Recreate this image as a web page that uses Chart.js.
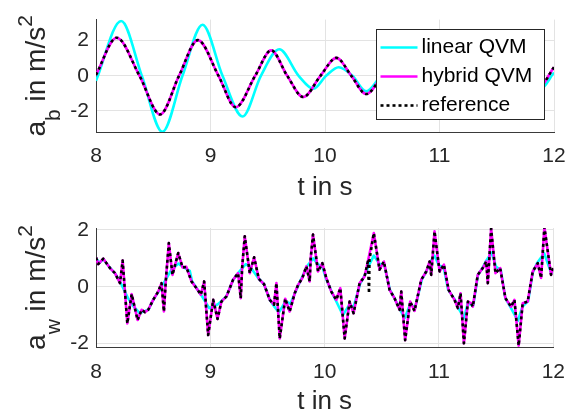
<!DOCTYPE html>
<html>
<head>
<meta charset="utf-8">
<script src="https://cdn.jsdelivr.net/npm/chart.js@4.4.1/dist/chart.umd.min.js"></script>
<style>
html, body { margin: 0; padding: 0; background: #fff; }
.plot_box { width: 578px; height: 208px; position: relative; }
</style>
</head>
<body>
<div class="plot_box"><canvas id="chart_b" width="578" height="208"></canvas></div>
<div class="plot_box"><canvas id="chart_w" width="578" height="208"></canvas></div>
<script>
//系列名
var series_names = ['linear QVM', 'hybrid QVM', 'reference'];
//目盛り
var x_ticks = [8, 9, 10, 11, 12];
var y_ticks_b = [-2, 0, 2];
var y_ticks_w = [-2, 0, 2];

//上のグラフ a_b (hybrid と reference は同じ)
var t_b_hybrid = [8.00, 8.18, 8.38, 8.56, 8.725, 8.89, 9.07, 9.22, 9.39, 9.53, 9.67, 9.81, 9.96, 10.10, 10.23, 10.36, 10.50, 10.63, 10.75, 10.88, 11.00, 11.12, 11.24, 11.37, 11.49, 11.62, 11.74, 11.87, 12.00];
var a_b_hybrid = [0.05, 2.17, 0, -2.20, 0, 2.03, 0, -1.79, 0, 1.45, 0, -1.21, 0, 1.02, 0, -1.04, 0, 0.90, 0, -0.85, 0, 0.80, 0, -0.75, 0, 0.70, 0, -0.60, 0.49];
var t_b_linear = [8.00, 8.22, 8.40, 8.58, 8.755, 8.93, 9.105, 9.28, 9.44, 9.60, 9.77, 9.90, 10.01, 10.12, 10.24, 10.36, 10.49, 10.62, 10.76, 10.89, 11.02, 11.15, 11.28, 11.41, 11.54, 11.67, 11.79, 11.88, 12.00];
var a_b_linear = [-0.28, 3.12, 0, -3.19, 0, 2.91, 0, -2.32, 0, 1.51, 0, -0.74, 0, 0.49, 0, -0.88, 0, 0.70, 0, -0.70, 0, 0.65, 0, -0.65, 0, 0.60, 0, -0.75, 0.19];

//下のグラフ a_w
var t_w_hybrid = [8.000, 8.020, 8.064, 8.122, 8.166, 8.210, 8.233, 8.274, 8.312, 8.364, 8.399, 8.428, 8.457, 8.500, 8.544, 8.573, 8.594, 8.611, 8.637, 8.669, 8.719, 8.757, 8.790, 8.835, 8.879, 8.917, 8.946, 8.981, 9.025, 9.063, 9.097, 9.141, 9.199, 9.243, 9.266, 9.278, 9.301, 9.345, 9.383, 9.424, 9.470, 9.520, 9.557, 9.578, 9.607, 9.655, 9.694, 9.738, 9.767, 9.805, 9.840, 9.869, 9.878, 9.898, 9.942, 9.980, 10.014, 10.058, 10.102, 10.137, 10.175, 10.218, 10.253, 10.306, 10.349, 10.378, 10.430, 10.480, 10.518, 10.568, 10.611, 10.655, 10.670, 10.704, 10.748, 10.786, 10.845, 10.889, 10.918, 10.932, 10.961, 11.005, 11.043, 11.084, 11.136, 11.165, 11.189, 11.218, 11.253, 11.282, 11.296, 11.339, 11.383, 11.413, 11.427, 11.456, 11.494, 11.535, 11.581, 11.631, 11.660, 11.697, 11.732, 11.776, 11.820, 11.864, 11.893, 11.922, 11.980, 12.000];
var a_w_hybrid = [1.03, 0.80, 0.99, 0.66, 0.48, 0.13, 0.92, -1.29, -0.26, -1.17, -0.81, -0.89, -0.81, -0.46, -0.17, 0.13, -0.87, 0.24, 1.54, 0.42, 1.19, 0.68, 0.70, 0.19, -0.05, -0.28, 0.19, -1.70, -0.46, -1.13, -0.52, -0.34, 0.25, 0.48, -0.40, 0.66, 1.78, 0.48, 1.04, 0.28, 0.09, -0.46, -0.63, 0.13, -1.82, -0.42, -0.87, -0.23, 0.06, 0.31, 0.72, 0.19, 1.01, 1.84, 0.54, 0.83, 0.31, -0.17, -0.46, -0.05, -1.82, -0.52, -0.93, 0.13, 0.36, 0.89, 1.89, 0.60, 0.89, -0.11, -0.40, -0.81, -0.17, -1.88, -0.52, -0.85, 0.25, 0.54, 0.89, 0.42, 1.95, 0.54, 0.78, -0.11, -0.46, -0.75, -0.23, -1.99, -0.52, -0.58, -0.70, 0.42, 0.66, 0.89, 0.13, 2.05, 0.48, 0.66, -0.40, -0.70, -0.46, -2.07, -0.58, -0.52, 0.54, 0.83, 0.31, 2.10, 0.42, 0.66];
//reference だけにある小さな落ち込み
var t_w_ref_extra = [10.388, 10.392];
var a_w_ref_extra = [-0.23, 0.95];
var t_w_linear = [8.00, 8.03, 8.065, 8.12, 8.17, 8.22, 8.28, 8.33, 8.38, 8.43, 8.46, 8.50, 8.55, 8.61, 8.66, 8.72, 8.76, 8.82, 8.84, 8.88, 8.93, 8.99, 9.03, 9.07, 9.14, 9.20, 9.25, 9.31, 9.35, 9.42, 9.47, 9.52, 9.56, 9.60, 9.66, 9.70, 9.74, 9.77, 9.81, 9.85, 9.90, 9.94, 9.98, 10.01, 10.06, 10.10, 10.16, 10.22, 10.25, 10.31, 10.35, 10.38, 10.43, 10.48, 10.52, 10.57, 10.61, 10.66, 10.70, 10.75, 10.79, 10.85, 10.89, 10.92, 10.96, 11.00, 11.04, 11.08, 11.14, 11.17, 11.22, 11.25, 11.30, 11.34, 11.38, 11.41, 11.46, 11.50, 11.54, 11.58, 11.63, 11.69, 11.73, 11.78, 11.82, 11.86, 11.92, 11.98, 12.00];
var a_w_linear = [1.00, 0.85, 0.97, 0.68, 0.45, 0.10, -0.40, -0.70, -0.92, -0.85, -0.80, -0.46, -0.15, 0.25, 0.60, 0.82, 0.70, 0.56, 0.20, -0.05, -0.35, -0.75, -0.70, -0.60, -0.34, 0.25, 0.52, 0.80, 0.70, 0.30, 0.09, -0.46, -0.70, -0.90, -0.50, -0.60, -0.23, 0.06, 0.40, 0.75, 1.00, 0.80, 0.70, 0.31, -0.17, -0.50, -1.00, -0.60, -0.75, 0.10, 0.40, 0.70, 1.10, 0.80, 0.80, -0.10, -0.40, -0.80, -1.10, -0.60, -0.75, 0.25, 0.55, 0.85, 1.10, 0.75, 0.70, -0.10, -0.46, -0.75, -1.10, -0.60, -0.65, 0.40, 0.66, 0.90, 1.20, 0.70, 0.60, -0.40, -0.75, -1.20, -0.70, -0.50, 0.50, 0.85, 1.18, 0.50, 0.50];

var font_family = "'Liberation Sans', Arial, Helvetica, sans-serif";
var text_color = '#262626';
var line_colors = ['#00ffff', '#ff00ff', '#000000'];
var line_width = 2.6;
var ref_dash = [3, 3];

//t と値の配列から {x, y} の配列を作る
function to_xy(ts, vs){
    return ts.map(function(t, i){ return {x: t, y: vs[i]}; });
}
//追加点を混ぜて t の順に並べる
function merge_xy(ts, vs, extra_t, extra_v){
    var pts = to_xy(ts, vs).concat(to_xy(extra_t, extra_v));
    pts.sort(function(a, b){ return a.x - b.x; });
    return pts;
}

//データセット
function make_datasets(linear_pts, hybrid_pts, ref_pts, smooth){
    var common = {pointRadius: 0, borderWidth: line_width, fill: false, borderJoinStyle: 'round'};
    if(smooth){ common.cubicInterpolationMode = 'monotone'; } else { common.tension = 0; }
    return [
        Object.assign({label: series_names[0], data: linear_pts, borderColor: line_colors[0], order: 2}, common),
        Object.assign({label: series_names[1], data: hybrid_pts, borderColor: line_colors[1], order: 1}, common),
        Object.assign({label: series_names[2], data: ref_pts, borderColor: line_colors[2], borderDash: ref_dash, order: 0}, common)
    ];
}

//y 軸タイトル (下付き・上付き) を描くプラグイン
var y_title_plugin = {
    id: 'ytitle',
    afterDraw: function(chart, args, opts){
        var ctx = chart.ctx;
        var area = chart.chartArea;
        var big = opts.size, small = Math.round(opts.size * 0.75);
        var f_big = big + 'px ' + font_family;
        var f_small = small + 'px ' + font_family;
        ctx.save();
        ctx.font = f_big;
        var w1 = ctx.measureText(opts.base).width;
        var w3 = ctx.measureText(opts.rest).width;
        ctx.font = f_small;
        var w2 = ctx.measureText(opts.sub).width;
        var w4 = ctx.measureText(opts.sup).width;
        var total = w1 + w2 + w3 + w4;
        ctx.translate(opts.x, (area.top + area.bottom) / 2);
        ctx.rotate(-Math.PI / 2);
        ctx.fillStyle = text_color;
        ctx.textBaseline = 'alphabetic';
        ctx.textAlign = 'left';
        var x = -total / 2;
        ctx.font = f_big; ctx.fillText(opts.base, x, 0); x += w1;
        ctx.font = f_small; ctx.fillText(opts.sub, x, 15); x += w2;
        ctx.font = f_big; ctx.fillText(opts.rest, x, 0); x += w3;
        ctx.font = f_small; ctx.fillText(opts.sup, x, -13);
        ctx.restore();
    }
};

//凡例 (グラフの中、右上)
var legend_plugin = {
    id: 'legendbox',
    afterDatasetsDraw: function(chart, args, opts){
        if(!opts.show){ return; }
        var ctx = chart.ctx;
        var area = chart.chartArea;
        var w = 168, h = 90;
        var left = Math.round(area.right - 10 - w) + 0.5;
        var top = Math.round(area.top + 9) + 0.5;
        ctx.save();
        ctx.fillStyle = '#ffffff';
        ctx.fillRect(left, top, w, h);
        ctx.strokeStyle = text_color;
        ctx.lineWidth = 1;
        ctx.strokeRect(left, top, w, h);
        ctx.font = '21px ' + font_family;
        ctx.textBaseline = 'middle';
        chart.data.datasets.forEach(function(ds, i){
            var yy = top + 18 + i * 29;
            ctx.beginPath();
            ctx.strokeStyle = ds.borderColor;
            ctx.lineWidth = line_width;
            ctx.setLineDash(ds.borderDash || []);
            ctx.moveTo(left + 4, yy);
            ctx.lineTo(left + 41, yy);
            ctx.stroke();
            ctx.setLineDash([]);
            ctx.fillStyle = '#000000';
            ctx.fillText(ds.label, left + 45, yy);
        });
        ctx.restore();
    }
};

function make_options(ymin, ymax, y_ticks, pad_top, x_height, tick_pad, title_pad, y_title, show_legend){
    var tick_font = {family: font_family, size: 21};
    return {
        responsive: false,
        animation: false,
        devicePixelRatio: 1,
        layout: {padding: {left: 0, right: 24, top: pad_top, bottom: 0}},
        plugins: {
            legend: {display: false},
            tooltip: {enabled: false},
            ytitle: y_title,
            legendbox: {show: show_legend}
        },
        scales: {
            x: {
                type: 'linear', min: 8, max: 12,
                afterBuildTicks: function(s){ s.ticks = x_ticks.map(function(v){ return {value: v}; }); },
                afterFit: function(s){ s.height = x_height; },
                ticks: {font: tick_font, color: text_color, padding: tick_pad, maxRotation: 0},
                grid: {color: '#e3e3e3', drawTicks: false},
                border: {color: '#3a3a3a', width: 1},
                title: {display: true, text: 't in s', color: text_color, font: {family: font_family, size: 26, lineHeight: 1}, padding: {top: 0, bottom: title_pad}}
            },
            y: {
                type: 'linear', min: ymin, max: ymax,
                afterBuildTicks: function(s){ s.ticks = y_ticks.map(function(v){ return {value: v}; }); },
                afterFit: function(s){ s.width = 96; },
                ticks: {font: tick_font, color: text_color, padding: 7},
                grid: {color: '#e3e3e3', drawTicks: false},
                border: {color: '#3a3a3a', width: 1}
            }
        }
    };
}

var chart_b = new Chart(document.getElementById('chart_b'), {
    type: 'line',
    data: {datasets: make_datasets(to_xy(t_b_linear, a_b_linear), to_xy(t_b_hybrid, a_b_hybrid), to_xy(t_b_hybrid, a_b_hybrid), true)},
    options: make_options(-3.2, 3.2, y_ticks_b, 12, 76, 12, 7, {x: 45, size: 28, base: 'a', sub: 'b', rest: ' in m/s', sup: '2'}, true),
    plugins: [y_title_plugin, legend_plugin]
});

var chart_w = new Chart(document.getElementById('chart_w'), {
    type: 'line',
    data: {datasets: make_datasets(to_xy(t_w_linear, a_w_linear), to_xy(t_w_hybrid, a_w_hybrid), merge_xy(t_w_hybrid, a_w_hybrid, t_w_ref_extra, a_w_ref_extra), false)},
    options: make_options(-2.12, 2.07, y_ticks_w, 20, 69, 13, 1, {x: 45, size: 28, base: 'a', sub: 'w', rest: ' in m/s', sup: '2'}, false),
    plugins: [y_title_plugin, legend_plugin]
});
</script>
</body>
</html>
